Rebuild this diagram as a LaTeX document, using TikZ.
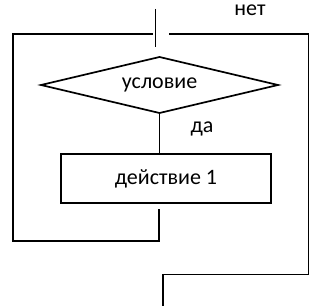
\documentclass[tikz,border=0pt]{standalone}
\usepackage{fontspec}
\setmainfont{Carlito}
\usetikzlibrary{shapes.geometric}
\begin{document}
\begin{tikzpicture}[x=1pt,y=-1pt,
  flow/.style={draw=black, line width=1.7pt},
  lbl/.style={font=\fontsize{22}{26}\selectfont, inner sep=0pt},
  decision/.style={diamond, draw=black, line width=1.7pt, shape aspect=4.25,
    minimum width=237pt, minimum height=56pt, inner sep=0pt, outer sep=0pt,
    font=\fontsize{22}{26}\selectfont},
  actbox/.style={rectangle, draw=black, line width=1.7pt, minimum width=210pt,
    minimum height=49pt, inner sep=0pt, outer sep=0pt,
    font=\fontsize{22}{26}\selectfont}]
\useasboundingbox (0,0) rectangle (323,305);
\fill[white] (0,0) rectangle (323,305);
% nodes
\node[decision] (cond) at (159.5,85) {условие};
\node[actbox] (act) at (166,178.5) {действие 1\hspace{9pt}};
\node[lbl] (no) at (250,10) {нет};
\node[lbl] (yes) at (202,129) {да};
\node[font=\fontsize{22}{26}\selectfont, text=black!25, inner sep=0pt] (arte) at (327,157) {(};
% coordinates
\coordinate (in0) at (155.5,9);
\coordinate (in1) at (155.5,47);
\coordinate (lt) at (153,34);
\coordinate (ltl) at (13,34);
\coordinate (lbl) at (13,241);
\coordinate (lbr) at (159,241);
\coordinate (lst) at (159,209);
\coordinate (rt) at (169,34);
\coordinate (rtr) at (308.5,34);
\coordinate (rbr) at (308.5,274.5);
\coordinate (rbl) at (163,274.5);
\coordinate (out) at (163,306);
% connectors
\draw[flow] (in0) -- (in1);
\draw[flow] (cond.south) -- (cond.south |- act.north);
\draw[flow] (lst) -- (lbr) -- (lbl) -- (ltl) -- (lt);
\draw[flow] (rt) -- (rtr) -- (rbr) -- (rbl) -- (out);
\end{tikzpicture}
\end{document}
